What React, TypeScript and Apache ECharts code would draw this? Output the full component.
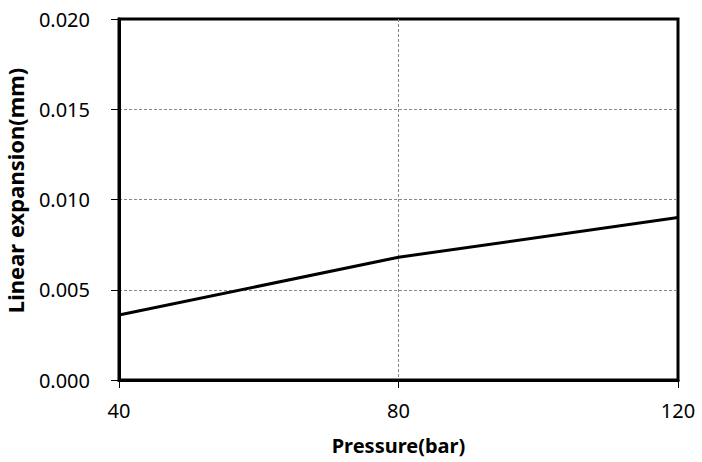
import React, { useEffect, useRef } from "react";
import * as echarts from "echarts";

const pressures = [40, 80, 120];
const expansion = [0.0036, 0.0068, 0.009];
const yTicks = { min: 0, max: 0.02, interval: 0.005 };
const xTicks = { min: 40, max: 120, interval: 40 };

export default function App() {
  const ref = useRef<HTMLDivElement>(null);
  useEffect(() => {
    if (!ref.current) return;
    const chart = echarts.init(ref.current, null, { renderer: "svg" });
    const font = "'Noto Sans', sans-serif";
    const split = {
      show: true,
      showMinLine: false,
      showMaxLine: false,
      lineStyle: { color: "#888", type: [3, 2], width: 1 },
    };
    chart.setOption({
      animation: false,
      backgroundColor: "#fff",
      grid: {
        left: 119,
        top: 19,
        width: 559,
        height: 361,
        outerBoundsMode: "none",
        containLabel: false,
        show: true,
        borderColor: "#000",
        borderWidth: 3,
        backgroundColor: "transparent",
      },
      xAxis: {
        type: "value",
        min: xTicks.min,
        max: xTicks.max,
        interval: xTicks.interval,
        name: "Pressure(bar)",
        nameLocation: "middle",
        nameGap: 55,
        nameTextStyle: { fontFamily: font, fontSize: 20, fontWeight: "bold", color: "#000" },
        axisLine: { show: true, lineStyle: { color: "#000", width: 3 } },
        axisTick: { show: true, inside: false, length: 8, lineStyle: { color: "#000", width: 1 } },
        axisLabel: { fontFamily: font, fontSize: 20, color: "#000", margin: 20 },
        splitLine: split,
      },
      yAxis: {
        type: "value",
        min: yTicks.min,
        max: yTicks.max,
        interval: yTicks.interval,
        name: "Linear expansion(mm)",
        nameLocation: "middle",
        nameGap: 93,
        nameTextStyle: {
          fontFamily: font,
          fontSize: 22,
          fontWeight: "bold",
          color: "#000",
          padding: [0, 0, 0, 18],
        },
        axisLine: { show: true, lineStyle: { color: "#000", width: 3 } },
        axisTick: { show: true, inside: false, length: 8, lineStyle: { color: "#000", width: 1 } },
        axisLabel: {
          fontFamily: font,
          fontSize: 20,
          color: "#000",
          margin: 29,
          formatter: (v: number) => v.toFixed(3),
        },
        splitLine: split,
      },
      series: [
        {
          type: "line",
          data: pressures.map((p, i) => [p, expansion[i]]),
          symbol: "none",
          lineStyle: { color: "#000", width: 3 },
        },
      ],
    });
    return () => chart.dispose();
  }, []);
  return (
    <div
      ref={ref}
      style={{ position: "fixed", left: 0, top: 0, width: 702, height: 462, background: "#fff" }}
    />
  );
}
